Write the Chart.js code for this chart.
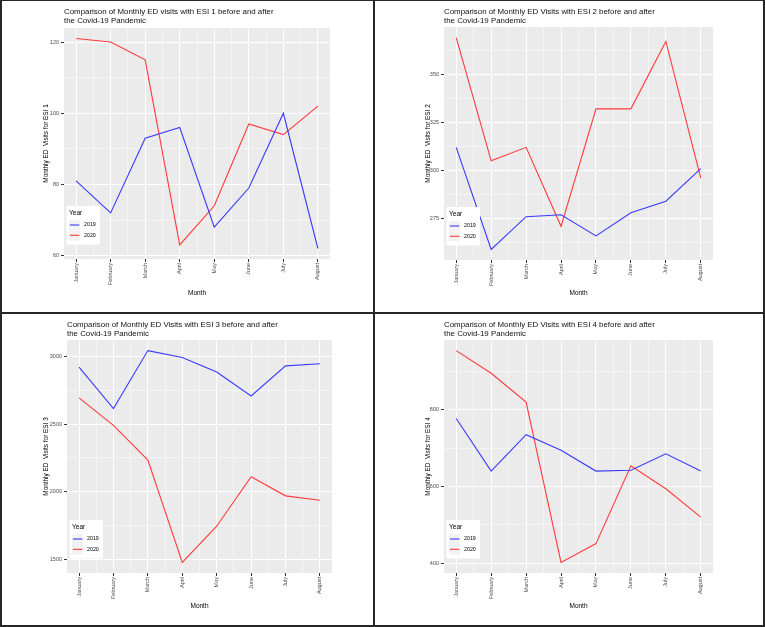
<!DOCTYPE html>
<html>
<head>
<meta charset="utf-8">
<script src="https://cdn.jsdelivr.net/npm/chart.js@4.4.0/dist/chart.umd.min.js"></script>
<style>
  body { margin: 0; background: #fff; }
  #page { position: relative; width: 765px; height: 627px; background: #fff; overflow: hidden; }
  #page canvas { position: absolute; }
  .rule { position: absolute; background: #262626; }
</style>
</head>
<body>
<div id="page">
  <canvas id="esi1" width="372" height="311" style="left:1px;top:1px"></canvas>
  <canvas id="esi2" width="388" height="311" style="left:375px;top:1px"></canvas>
  <canvas id="esi3" width="372" height="311" style="left:1px;top:314px"></canvas>
  <canvas id="esi4" width="388" height="311" style="left:375px;top:314px"></canvas>

  <div class="rule" style="left:0;top:0;width:765px;height:1px"></div>
  <div class="rule" style="left:0;top:0;width:2px;height:627px"></div>
  <div class="rule" style="left:763px;top:0;width:2px;height:627px"></div>
  <div class="rule" style="left:0;top:625px;width:765px;height:2px"></div>
  <div class="rule" style="left:373px;top:0;width:2px;height:627px"></div>
  <div class="rule" style="left:0;top:312px;width:765px;height:2px"></div>
</div>
<script>
// months on the x axis
const months = ['January', 'February', 'March', 'April', 'May', 'June', 'July', 'August'];
const years = ['2019', '2020'];

// monthly ED visit counts
const esi1_2019 = [81, 72, 93, 96, 68, 79, 100, 62];
const esi1_2020 = [121, 120, 115, 63, 74, 97, 94, 102];
const esi2_2019 = [312, 259, 276, 277, 266, 278, 284, 301];
const esi2_2020 = [369, 305, 312, 271, 332, 332, 367, 296];
const esi3_2019 = [2922, 2615, 3044, 2993, 2885, 2708, 2931, 2946];
const esi3_2020 = [2694, 2490, 2233, 1475, 1743, 2110, 1968, 1936];
const esi4_2019 = [777, 640, 735, 694, 640, 642, 685, 640];
const esi4_2020 = [954, 895, 820, 402, 451, 654, 594, 520];

// labelled y ticks
const esi1Ticks = [60, 80, 100, 120];
const esi2Ticks = [275, 300, 325, 350];
const esi3Ticks = [1500, 2000, 2500, 3000];
const esi4Ticks = [400, 600, 800];

const yearColors = ['#3A3AFF', '#FF3A3A'];
const family = "'Liberation Sans', Arial, sans-serif";

Chart.defaults.font.family = family;

// grey panel background like ggplot
const panelBg = {
    id: 'panelBg',
    beforeDraw(chart) {
        const { ctx, chartArea: a } = chart;
        ctx.save();
        ctx.fillStyle = '#EBEBEB';
        ctx.fillRect(a.left, a.top, a.right - a.left, a.bottom - a.top);
        ctx.restore();
    }
};

// legend box sitting inside the panel, bottom left
const insideLegend = {
    id: 'insideLegend',
    afterDraw(chart) {
        const { ctx, chartArea: a } = chart;
        const w = 33.5, h = 38.5;
        const x = a.left + 2.5, y = a.bottom - 14.5 - h;
        ctx.save();
        ctx.fillStyle = '#fff';
        ctx.fillRect(x, y, w, h);
        ctx.textBaseline = 'middle';
        ctx.fillStyle = '#000';
        ctx.font = '6.5px ' + family;
        ctx.fillText('Year', x + 2.6, y + 6.8);
        ctx.font = '5.3px ' + family;
        chart.data.datasets.forEach((ds, i) => {
            const cy = y + 19 + i * 10.3;
            ctx.fillStyle = '#F2F2F2';
            ctx.fillRect(x + 2.6, cy - 5.1, 11, 10.3);
            ctx.strokeStyle = ds.borderColor;
            ctx.lineWidth = 1.1;
            ctx.beginPath();
            ctx.moveTo(x + 3.4, cy);
            ctx.lineTo(x + 12.8, cy);
            ctx.stroke();
            ctx.fillStyle = '#000';
            ctx.fillText(ds.label, x + 17.5, cy);
        });
        ctx.restore();
    }
};

function makePanel(id, title, yTitle, counts2019, counts2020, majors, area, yTitleX) {
    const canvas = document.getElementById(id);
    const W = canvas.width, H = canvas.height;

    // ggplot style 5% expansion around the data
    const all = counts2019.concat(counts2020);
    const lo = Math.min(...all), hi = Math.max(...all);
    const pad = (hi - lo) * 0.05;
    const yMin = lo - pad, yMax = hi + pad;

    const step = majors[1] - majors[0];
    const yTicks = majors
        .concat(majors.map(v => v - step / 2), [majors[majors.length - 1] + step / 2])
        .filter(v => v >= yMin && v <= yMax)
        .sort((a, b) => a - b);
    const xTicks = months.flatMap((m, i) => i < months.length - 1 ? [i + 1, i + 1.5] : [i + 1]);

    const majorY = v => majors.includes(v);
    const majorX = v => Number.isInteger(v);

    new Chart(canvas, {
        type: 'line',
        data: {
            datasets: [
                {
                    label: years[0],
                    data: counts2019.map((v, i) => ({ x: i + 1, y: v })),
                    borderColor: yearColors[0],
                    borderWidth: 1.1,
                    pointRadius: 0,
                    tension: 0,
                    fill: false
                },
                {
                    label: years[1],
                    data: counts2020.map((v, i) => ({ x: i + 1, y: v })),
                    borderColor: yearColors[1],
                    borderWidth: 1.1,
                    pointRadius: 0,
                    tension: 0,
                    fill: false
                }
            ]
        },
        options: {
            responsive: false,
            animation: false,
            devicePixelRatio: 1,
            layout: {
                padding: { left: yTitleX - 3.84, right: W - area.right, top: 0, bottom: 0 }
            },
            plugins: {
                legend: { display: false },
                tooltip: { enabled: false },
                title: {
                    display: true,
                    text: [title, 'the Covid-19 Pandemic'],
                    align: 'start',
                    fullSize: false,
                    color: '#111',
                    font: { size: 7.9, weight: 'normal', lineHeight: 1.15 },
                    padding: { top: 5.8, bottom: area.top - 5.8 - 7.9 * 1.15 * 2 }
                }
            },
            scales: {
                x: {
                    type: 'linear',
                    min: 0.65,
                    max: 8.35,
                    afterBuildTicks: s => { s.ticks = xTicks.map(v => ({ value: v })); },
                    afterFit: s => { s.height = H - area.bottom; },
                    border: { display: false },
                    grid: {
                        color: '#fff',
                        lineWidth: c => majorX(c.tick.value) ? 1 : 0.5,
                        tickColor: c => majorX(c.tick.value) ? '#333' : 'rgba(0,0,0,0)',
                        tickLength: 3
                    },
                    ticks: {
                        autoSkip: false,
                        minRotation: 90,
                        maxRotation: 90,
                        padding: 1,
                        color: '#4D4D4D',
                        font: { size: 5.5 },
                        callback: v => Number.isInteger(v) ? months[v - 1] : ''
                    },
                    title: {
                        display: true,
                        text: 'Month',
                        color: '#000',
                        font: { size: 6.5 },
                        padding: { top: 0, bottom: 15.1 }
                    }
                },
                y: {
                    type: 'linear',
                    min: yMin,
                    max: yMax,
                    afterBuildTicks: s => { s.ticks = yTicks.map(v => ({ value: v })); },
                    afterFit: s => { s.width = area.left - (yTitleX - 3.84); },
                    border: { display: false },
                    grid: {
                        color: '#fff',
                        lineWidth: c => majorY(c.tick.value) ? 1 : 0.5,
                        tickColor: c => majorY(c.tick.value) ? '#333' : 'rgba(0,0,0,0)',
                        tickLength: 3
                    },
                    ticks: {
                        padding: 2,
                        color: '#4D4D4D',
                        font: { size: 5.5 },
                        callback: v => majorY(v) ? String(v) : ''
                    },
                    title: {
                        display: true,
                        text: yTitle,
                        color: '#000',
                        font: { size: 6.4 },
                        padding: 0
                    }
                }
            }
        },
        plugins: [panelBg, insideLegend]
    });
}

makePanel('esi1', 'Comparison of Monthly ED visits with ESI 1 before and after',
    'Monthly ED  Visits for ESI 1', esi1_2019, esi1_2020, esi1Ticks,
    { left: 63, right: 329, top: 27, bottom: 258 }, 45.7);
makePanel('esi2', 'Comparison of Monthly ED Visits with ESI 2 before and after',
    'Monthly ED  Visits for ESI 2', esi2_2019, esi2_2020, esi2Ticks,
    { left: 69, right: 338, top: 26, bottom: 259 }, 53.3);
makePanel('esi3', 'Comparison of Monthly ED Visits with ESI 3 before and after',
    'Monthly ED  Visits for ESI 3', esi3_2019, esi3_2020, esi3Ticks,
    { left: 66, right: 331, top: 26, bottom: 259 }, 45.7);
makePanel('esi4', 'Comparison of Monthly ED Visits with ESI 4 before and after',
    'Monthly ED  Visits for ESI 4', esi4_2019, esi4_2020, esi4Ticks,
    { left: 69, right: 338, top: 26, bottom: 259 }, 53.3);
</script>
</body>
</html>
